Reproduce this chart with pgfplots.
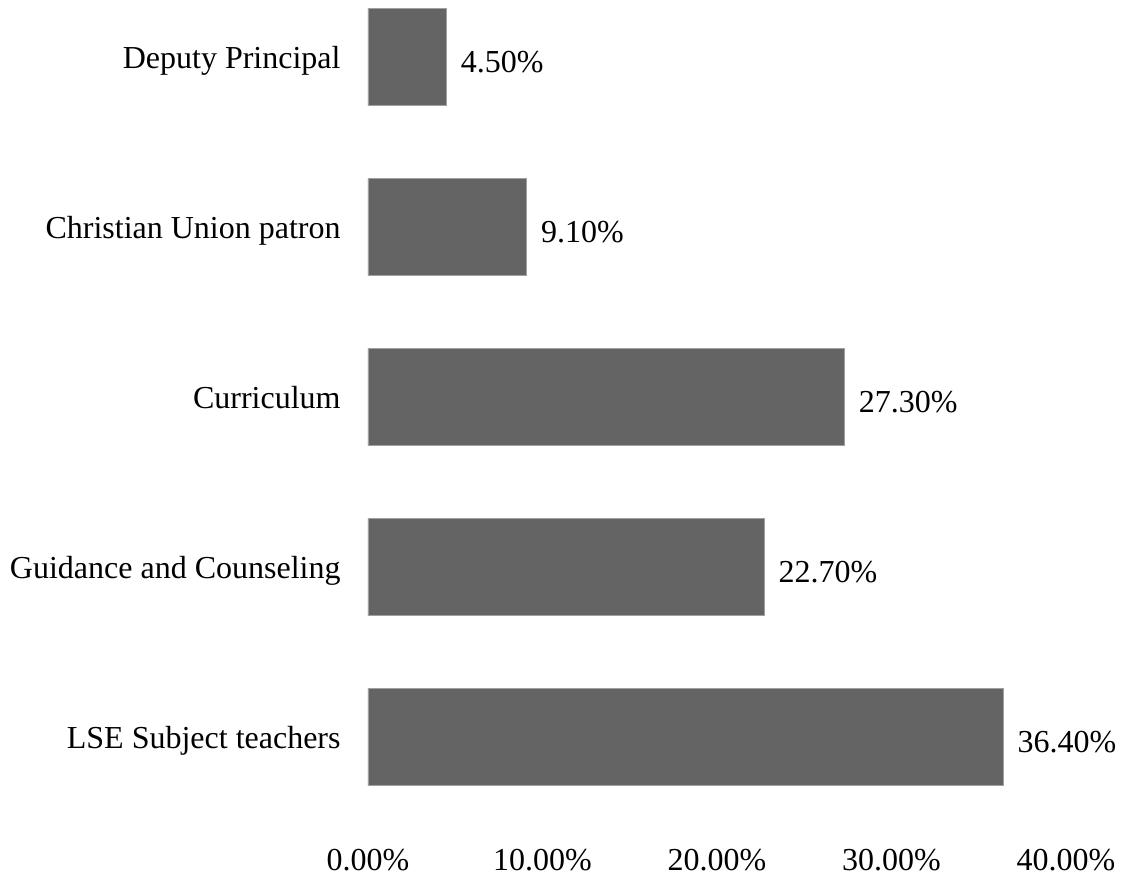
\documentclass[border=0pt]{standalone}
\usepackage{pgfplots}
\pgfplotsset{compat=1.18}
\usepackage{fontspec}
\setmainfont{Liberation Serif}
\definecolor{barc}{HTML}{646464}
\definecolor{barb}{HTML}{A0A0A0}
\begin{document}
\fontsize{16}{19}\selectfont
\begin{tikzpicture}
\begin{axis}[
  scale only axis,
  width=349pt, height=425pt,
  xmin=0, xmax=40, ymin=-0.5, ymax=4.5,
  axis line style={draw=none},
  xbar, bar width=48.5pt,
  ytick={0,1,2,3,4},
  yticklabels={LSE Subject teachers,Guidance and Counseling,Curriculum\ ,Christian Union patron,Deputy Principal},
  xtick={0,10,20,30,40},
  xticklabels={0.00\%,10.00\%,20.00\%,30.00\%,40.00\%},
  major tick length=0pt,
  tick style={draw=none},
  x tick label style={anchor=base, inner sep=0pt, yshift=-24pt, font=\fontsize{16}{19}\selectfont},
  y tick label style={anchor=base east, inner sep=0pt, xshift=-13.5pt, yshift=-5.5pt, font=\fontsize{16}{19}\selectfont},
  nodes near coords={\pgfmathprintnumber[fixed,fixed zerofill,precision=2]{\pgfplotspointmeta}\%},
  nodes near coords style={anchor=base west, inner sep=0pt, xshift=7pt, yshift=-7.5pt, font=\fontsize{16}{19}\selectfont},
  every node near coord/.append style={/pgf/number format/assume math mode=true},
  clip=false,
]
\addplot[fill=barc, draw=barb, line width=0.4pt] coordinates {(36.4,0) (22.7,1) (27.3,2) (9.1,3) (4.5,4)};
\end{axis}
\pgfresetboundingbox
\useasboundingbox (-184pt,-26.5pt) rectangle (378.5pt,411pt);
\end{tikzpicture}
\end{document}
